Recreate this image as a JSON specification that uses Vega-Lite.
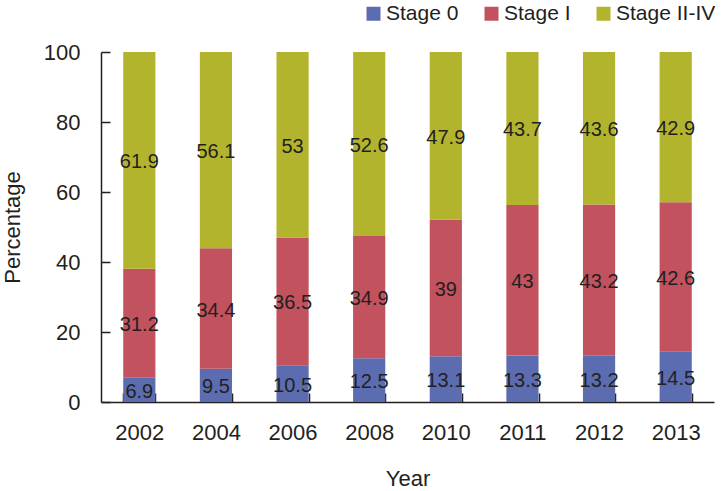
{
  "$schema": "https://vega.github.io/schema/vega-lite/v6.json",
  "width": 613,
  "height": 350,
  "autosize": {"type": "none"},
  "padding": {"left": 101, "top": 52, "right": 10, "bottom": 89},
  "background": "white",
  "config": {
    "view": {"stroke": null},
    "font": "Liberation Sans",
    "axis": {
      "labelFont": "Liberation Sans",
      "titleFont": "Liberation Sans",
      "labelFontSize": 22,
      "titleFontSize": 22,
      "titleFontWeight": "normal",
      "labelColor": "#231f20",
      "titleColor": "#231f20",
      "domainColor": "#231f20",
      "tickColor": "#231f20",
      "domainWidth": 1.5,
      "tickWidth": 1.5,
      "grid": false
    },
    "legend": {
      "labelFont": "Liberation Sans",
      "labelFontSize": 21,
      "labelColor": "#231f20",
      "labelLimit": 300
    }
  },
  "data": {
    "values": [
      {"year": "2002", "stage": "Stage 0", "value": 6.9},
      {"year": "2002", "stage": "Stage I", "value": 31.2},
      {"year": "2002", "stage": "Stage II-IV", "value": 61.9},
      {"year": "2004", "stage": "Stage 0", "value": 9.5},
      {"year": "2004", "stage": "Stage I", "value": 34.4},
      {"year": "2004", "stage": "Stage II-IV", "value": 56.1},
      {"year": "2006", "stage": "Stage 0", "value": 10.5},
      {"year": "2006", "stage": "Stage I", "value": 36.5},
      {"year": "2006", "stage": "Stage II-IV", "value": 53},
      {"year": "2008", "stage": "Stage 0", "value": 12.5},
      {"year": "2008", "stage": "Stage I", "value": 34.9},
      {"year": "2008", "stage": "Stage II-IV", "value": 52.6},
      {"year": "2010", "stage": "Stage 0", "value": 13.1},
      {"year": "2010", "stage": "Stage I", "value": 39},
      {"year": "2010", "stage": "Stage II-IV", "value": 47.9},
      {"year": "2011", "stage": "Stage 0", "value": 13.3},
      {"year": "2011", "stage": "Stage I", "value": 43},
      {"year": "2011", "stage": "Stage II-IV", "value": 43.7},
      {"year": "2012", "stage": "Stage 0", "value": 13.2},
      {"year": "2012", "stage": "Stage I", "value": 43.2},
      {"year": "2012", "stage": "Stage II-IV", "value": 43.6},
      {"year": "2013", "stage": "Stage 0", "value": 14.5},
      {"year": "2013", "stage": "Stage I", "value": 42.6},
      {"year": "2013", "stage": "Stage II-IV", "value": 42.9}
    ]
  },
  "transform": [
    {"stack": "value", "groupby": ["year"], "sort": [{"field": "stage", "order": "ascending"}], "as": ["v0", "v1"]},
    {"calculate": "(datum.v0 + datum.v1) / 2", "as": "mid"}
  ],
  "encoding": {
    "x": {
      "field": "year",
      "type": "ordinal",
      "scale": {"paddingInner": 0.58, "paddingOuter": 0.29},
      "axis": {
        "title": "Year",
        "labelAngle": 0,
        "tickBand": "extent",
        "tickSize": -9,
        "labelPadding": 29,
        "titlePadding": 25
      }
    }
  },
  "layer": [
    {
      "mark": {"type": "bar"},
      "encoding": {
        "y": {
          "field": "v0",
          "type": "quantitative",
          "scale": {"domain": [0, 100]},
          "axis": {
            "title": "Percentage",
            "values": [0, 20, 40, 60, 80, 100],
            "tickSize": -9,
            "labelPadding": 30,
            "titlePadding": 19
          }
        },
        "y2": {"field": "v1"},
        "color": {
          "field": "stage",
          "type": "nominal",
          "scale": {
            "domain": ["Stage 0", "Stage I", "Stage II-IV"],
            "range": ["#5b6db0", "#c1525e", "#b3b42d"]
          },
          "legend": {
            "title": null,
            "orient": "none",
            "direction": "horizontal",
            "legendX": 262,
            "legendY": -49,
            "symbolType": "square",
            "symbolSize": 196,
            "symbolStrokeWidth": 0,
            "labelOffset": 2,
            "columnPadding": 22
          }
        }
      }
    },
    {
      "mark": {"type": "text", "fontSize": 20, "dy": 2, "color": "#231f20", "font": "Liberation Sans"},
      "encoding": {
        "y": {"field": "mid", "type": "quantitative"},
        "text": {"field": "value", "type": "nominal"}
      }
    }
  ]
}
